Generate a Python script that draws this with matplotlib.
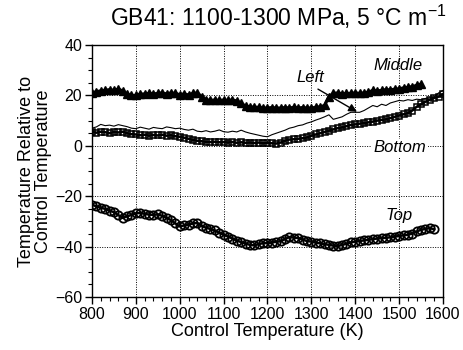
import matplotlib
matplotlib.use("Agg")
import matplotlib.pyplot as plt
from matplotlib.ticker import MultipleLocator

plt.rcParams['font.family'] = ['Liberation Sans', 'DejaVu Sans']
plt.rcParams['mathtext.fontset'] = 'custom'
plt.rcParams['mathtext.rm'] = 'Liberation Sans'
plt.rcParams['mathtext.it'] = 'Liberation Sans:italic'

temp_top = [800, 810, 820, 830, 840, 850, 860, 870, 880, 890,
            900, 910, 920, 930, 940, 950, 960, 970, 980, 990,
            1000, 1010, 1020, 1030, 1040, 1050, 1060, 1070, 1080, 1090,
            1100, 1110, 1120, 1130, 1140, 1150, 1160, 1170, 1180, 1190,
            1200, 1210, 1220, 1230, 1240, 1250, 1260, 1270, 1280, 1290,
            1300, 1310, 1320, 1330, 1340, 1350, 1360, 1370, 1380, 1390,
            1400, 1410, 1420, 1430, 1440, 1450, 1460, 1470, 1480, 1490,
            1500, 1510, 1520, 1530, 1540, 1550, 1560, 1570, 1580]
top = [-23.4, -24.0, -24.6, -25.0, -25.8, -26.3, -27.5, -28.6, -28.0, -27.4,
       -26.8, -26.6, -27.0, -27.3, -27.4, -27.2, -27.8, -28.6, -29.5, -30.8,
       -32.0, -31.6, -31.3, -30.8, -30.6, -31.8, -32.5, -33.0, -33.6, -34.5,
       -35.3, -36.0, -36.8, -37.6, -38.2, -38.8, -39.3, -39.5, -39.0, -38.6,
       -38.6, -38.4, -38.0, -37.9, -37.0, -36.2, -36.4, -36.6, -37.2, -37.8,
       -38.0, -38.4, -38.7, -39.0, -39.3, -39.6, -39.8, -39.3, -38.9, -38.3,
       -38.0, -37.8, -37.5, -37.3, -37.0, -36.8, -36.6, -36.5, -36.3, -36.0,
       -35.8, -35.5, -35.3, -34.8, -34.0, -33.3, -33.0, -32.6, -33.2]

temp_mid = [800, 810, 820, 830, 840, 850, 860, 870, 880, 890,
            900, 910, 920, 930, 940, 950, 960, 970, 980, 990,
            1000, 1010, 1020, 1030, 1040, 1050, 1060, 1070, 1080, 1090,
            1100, 1110, 1120, 1130, 1140, 1150, 1160, 1170, 1180, 1190,
            1200, 1210, 1220, 1230, 1240, 1250, 1260, 1270, 1280, 1290,
            1300, 1310, 1320, 1330, 1340, 1350, 1360, 1370, 1380, 1390,
            1400, 1410, 1420, 1430, 1440, 1450, 1460, 1470, 1480, 1490,
            1500, 1510, 1520, 1530, 1540, 1550]
middle = [21.0, 21.5, 21.8, 22.0, 22.3, 22.0, 22.5, 21.8, 20.5, 20.0,
          20.0, 20.5, 20.6, 20.8, 20.6, 20.8, 21.0, 20.6, 21.0, 20.8,
          20.3, 20.6, 20.2, 20.8, 21.0, 19.5, 18.3, 18.0, 18.2, 18.0,
          18.2, 18.0, 18.2, 17.8, 16.8, 15.8, 15.5, 15.3, 15.3, 15.0,
          15.0, 15.2, 15.0, 15.0, 15.2, 15.0, 15.3, 15.0, 15.2, 15.0,
          15.0, 15.3, 15.5, 16.0, 19.5, 20.8, 21.0, 20.6, 20.8, 20.8,
          21.0, 20.8, 21.0, 21.3, 22.0, 21.8, 22.0, 22.3, 22.2, 22.5,
          22.6, 23.0, 23.2, 23.5, 24.0, 24.5]

temp_full = [800, 810, 820, 830, 840, 850, 860, 870, 880, 890,
             900, 910, 920, 930, 940, 950, 960, 970, 980, 990,
             1000, 1010, 1020, 1030, 1040, 1050, 1060, 1070, 1080, 1090,
             1100, 1110, 1120, 1130, 1140, 1150, 1160, 1170, 1180, 1190,
             1200, 1210, 1220, 1230, 1240, 1250, 1260, 1270, 1280, 1290,
             1300, 1310, 1320, 1330, 1340, 1350, 1360, 1370, 1380, 1390,
             1400, 1410, 1420, 1430, 1440, 1450, 1460, 1470, 1480, 1490,
             1500, 1510, 1520, 1530, 1540, 1550, 1560, 1570, 1580, 1590, 1600]
bottom = [5.5, 5.2, 5.6, 5.4, 5.0, 5.5, 5.3, 5.6, 5.0, 4.6,
          4.5, 4.2, 4.4, 4.0, 4.3, 4.1, 4.4, 4.0, 4.2, 3.8,
          3.6, 3.2, 2.8, 2.3, 2.0, 1.8, 1.6, 1.5, 1.6, 1.4,
          1.5, 1.3, 1.5, 1.2, 1.4, 1.2, 1.3, 1.1, 1.3, 1.0,
          1.2, 1.0, 0.9, 1.3, 2.0, 2.5, 2.6, 2.8, 3.0, 3.3,
          4.0, 4.5, 5.0, 5.5, 6.0, 6.5, 7.0, 7.3, 7.8, 8.3,
          8.5, 8.8, 9.0, 9.3, 9.6, 10.0, 10.3, 10.5, 11.0, 11.5,
          12.0, 12.5, 13.0, 14.0, 15.5, 16.5, 17.5, 18.3, 19.0, 19.5, 20.5]
left = [7.0, 7.5, 8.5, 8.0, 8.2, 7.8, 8.4, 8.0, 7.6, 7.0,
        6.8, 7.4, 7.0, 6.6, 7.3, 7.0, 6.8, 7.5, 7.2, 6.8,
        7.0, 6.5, 6.2, 6.6, 5.8, 5.6, 6.0, 5.5, 5.8, 6.3,
        5.6, 5.4, 5.8, 5.5, 6.2, 5.5, 5.0, 4.6, 4.2, 3.8,
        3.6, 4.4, 5.0, 5.6, 6.2, 7.0, 7.4, 8.0, 8.3, 9.0,
        9.5, 10.2, 10.8, 11.5, 12.3, 10.5, 11.0, 11.5, 12.5, 13.3,
        13.3, 13.3, 14.0, 15.0, 16.0, 15.5, 16.5, 16.0, 17.0, 17.5,
        18.0, 17.8, 18.3, 18.0, 18.5, 18.3, 18.8, 19.0, 19.5, 21.0, 22.0]

fig = plt.figure(figsize=(4.63, 3.50), dpi=100)
ax = fig.add_axes([0.1987, 0.1514, 0.7581, 0.72])

ax.plot(temp_top, top, color='black', lw=1.8, marker='o', ms=6,
        mfc='none', mec='black', mew=1.3)
ax.plot(temp_full, bottom, color='black', lw=1.8, marker='s', ms=5,
        mfc='none', mec='black', mew=1.1)
ax.plot(temp_full, left, color='black', lw=0.8)
ax.plot(temp_mid, middle, color='black', lw=2.2, marker='^', ms=5.2,
        mfc='black', mec='black')

ax.set_xlim(800, 1600)
ax.set_ylim(-60, 40)
ax.xaxis.set_major_locator(MultipleLocator(100))
ax.xaxis.set_minor_locator(MultipleLocator(20))
ax.yaxis.set_major_locator(MultipleLocator(20))
ax.yaxis.set_minor_locator(MultipleLocator(5))
ax.tick_params(which='major', direction='out', length=5, width=1,
               labelsize=11.5, top=False, right=False, pad=2)
ax.tick_params(which='minor', direction='out', length=3, width=0.8,
               top=False, right=False)
ax.grid(True, which='major', color='black', linestyle=(0, (1, 1.5)), lw=0.7)
for s in ax.spines.values():
    s.set_linewidth(1.0)

ax.set_xlabel('Control Temperature (K)', fontsize=13, labelpad=1)
ax.set_ylabel('Temperature Relative to\nControl Temperature', fontsize=13,
              labelpad=2, linespacing=1.0)

fig.text(0.60, 0.951, 'GB41: 1100-1300 MPa, 5 \u00b0C m$^{-1}$',
         ha='center', va='center', fontsize=16.5)

ax.text(1497, 31.7, 'Middle', style='italic', fontsize=12, ha='center', va='center')
ax.text(1297, 27, 'Left', style='italic', fontsize=12, ha='center', va='center')
ax.text(1502, -0.8, 'Bottom', style='italic', fontsize=12, ha='center', va='center',
        bbox=dict(facecolor='white', edgecolor='none', pad=1))
ax.text(1499, -27.8, 'Top', style='italic', fontsize=12, ha='center', va='center')
ax.annotate('', xy=(1404, 13.5), xytext=(1315, 22.5),
            arrowprops=dict(arrowstyle='-|>', color='black', lw=1.0,
                            mutation_scale=12, shrinkA=0, shrinkB=0))

fig.savefig('out.png', dpi=100)
